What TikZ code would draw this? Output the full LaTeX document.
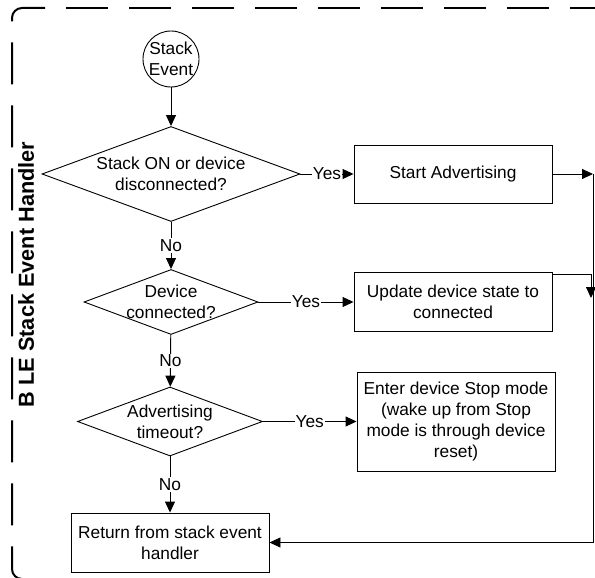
\documentclass[tikz,border=0pt]{standalone}
\usepackage{fontspec}
\setmainfont{Liberation Sans}
\usetikzlibrary{shapes.geometric,arrows.meta}
\begin{document}
\begin{tikzpicture}[x=1pt,y=-1pt,line width=0.9pt,
  every node/.style={font=\fontsize{17.3}{20.8}\selectfont},
  terminal/.style={draw,circle,minimum size=56pt,inner sep=0pt,align=center},
  decision/.style={draw,diamond,inner sep=0pt},
  process/.style={draw,rectangle,minimum width=198pt,inner sep=2pt,align=center},
  lbl/.style={fill=white,inner sep=1pt},
  flow/.style={-{Triangle[length=11pt,width=10pt]}},
  border/.style={line width=2pt,dash pattern=on 42pt off 21pt,rounded corners=10pt}]
\useasboundingbox (0,0) rectangle (595,578);
\clip (0,0) rectangle (595,578);

\draw[border,dash phase=42pt](45,8)--(620,8);
\draw[border](45,8)--(12,8)--(12,579)--(40,579);
\node[rotate=90,inner sep=0pt,font=\fontsize{21.7}{26}\selectfont\bfseries] (title) at (26,274.5){B LE Stack Event Handler};

\node[terminal] (event) at (171,59){Stack\\Event};
\node[decision,minimum width=258pt,minimum height=95pt,
  label={[align=center]center:Stack ON or device\\disconnected?}] (q1) at (171,174){};
\node[decision,minimum width=174pt,minimum height=65pt,
  label={[align=center]center:Device\\connected?}] (q2) at (171,302){};
\node[decision,minimum width=185pt,minimum height=69pt,
  label={[align=center]center:Advertising\\timeout?}] (q3) at (170,421.5){};
\node[process,minimum height=58pt] (adv) at (453,174){Start Advertising};
\node[process,minimum height=59pt] (upd) at (453,302){Update device state to\\connected};
\node[process,minimum height=99pt] (stop) at (456,421.5){Enter device Stop mode\\(wake up from Stop\\mode is through device\\reset)};
\node[process,minimum height=59pt] (ret) at (170,542.5){Return from stack event\\handler};

\coordinate (railtop) at (593,174);
\coordinate (railjoin) at (591,298);
\coordinate (railbot) at (railtop |- ret.east);

\draw[flow](event)--(q1);
\draw[flow](q1)--node[lbl]{No}(q2);
\draw[flow](q2)--node[lbl]{No}(q3);
\draw[flow](q3)--node[lbl]{No}(ret);
\draw[flow](q1)--node[lbl]{Yes}(adv);
\draw[flow](q2)--node[lbl]{Yes}(upd);
\draw[flow](q3)--node[lbl]{Yes}(stop);

\draw[flow](adv)--(railtop);
\draw[flow]([yshift=-2pt]upd.north east)-|(railjoin);
\draw[flow](railtop)--(railbot)--(ret);
\end{tikzpicture}
\end{document}
